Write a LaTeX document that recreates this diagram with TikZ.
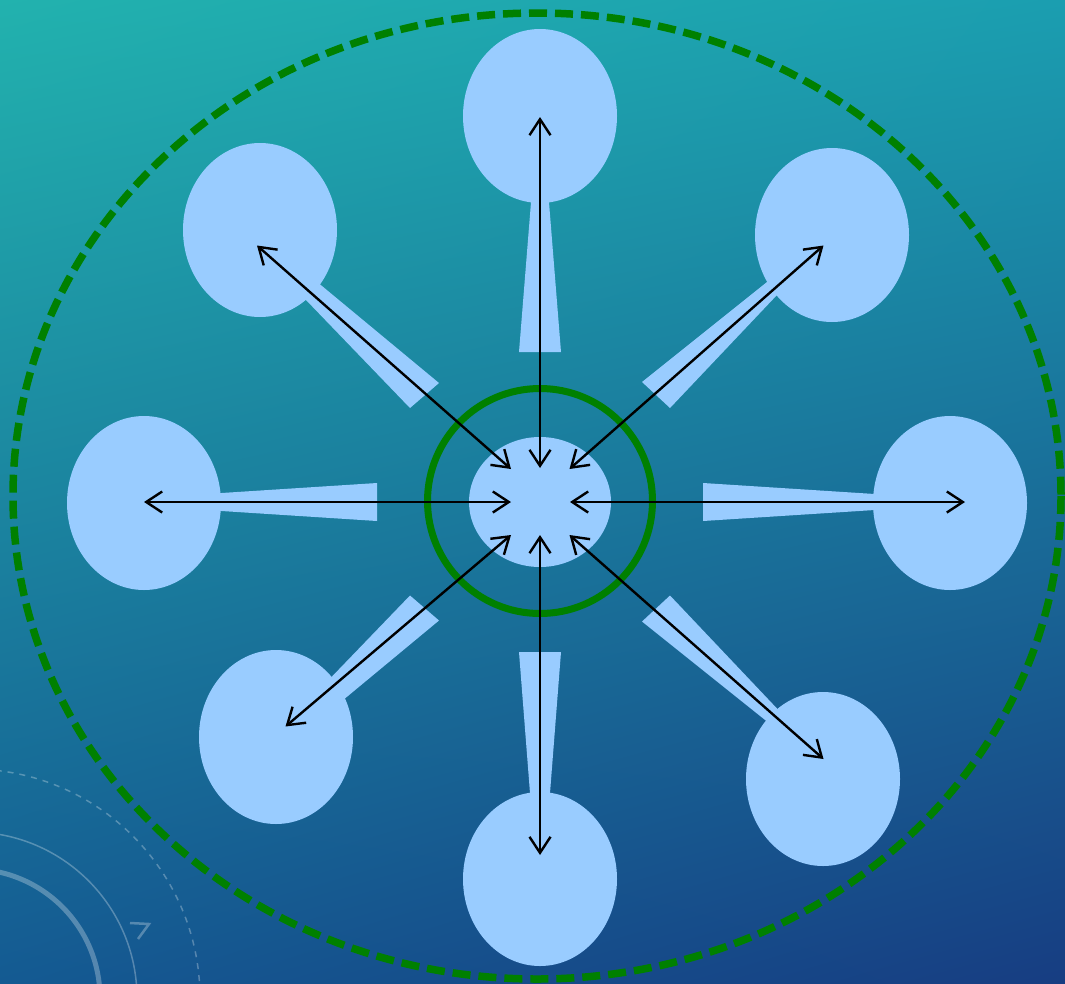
\documentclass[tikz,border=0pt]{standalone}
\usetikzlibrary{shapes.geometric,arrows.meta,shadings}
\definecolor{lb}{HTML}{99CCFF}
\definecolor{gr}{HTML}{008000}
\definecolor{bgul}{HTML}{22B2AE}
\definecolor{bgur}{HTML}{1B9EB0}
\definecolor{bgll}{HTML}{145A92}
\definecolor{bglr}{HTML}{173D82}
\tikzset{
  bub/.style={ellipse, fill=lb, inner sep=0pt, minimum width=154pt, minimum height=174pt},
  hub/.style={ellipse, fill=lb, inner sep=0pt, minimum width=142pt, minimum height=130pt},
  ring/.style={circle, draw=gr, line width=7pt, inner sep=0pt, minimum size=225pt},
  wedgefill/.style={fill=lb},
  spoke/.style={line width=2.4pt, {Straight Barb[length=16pt,width=21pt]}-{Straight Barb[length=16pt,width=21pt]}},
  deco/.style={draw=white, draw opacity=0.28},
}
\begin{document}
\begin{tikzpicture}[x=1pt,y=-1pt]
\path[use as bounding box] (0,0) rectangle (1065,983);
\clip (0,0) rectangle (1065,983);
\shade[upper left=bgul, upper right=bgur, lower left=bgll, lower right=bglr] (0,0) rectangle (1065,983);
% decorative arcs bottom-left
\draw[deco, line width=5pt] (-29,998) circle[radius=129];
\draw[deco, line width=1.5pt] (-29,998) circle[radius=166];
\draw[deco, line width=1.5pt, dash pattern=on 6pt off 6pt] (-29,998) circle[radius=229];
\draw[deco, line width=2.5pt] (130,923) -- (149,924) -- (138,939);
% outer dashed ellipse
\draw[gr, line width=7.5pt, dash pattern=on 18pt off 8pt] (537,496) ellipse[x radius=524, y radius=483];
% wedges
\fill[wedgefill] (519,352) -- (536.8,130) -- (543.2,130) -- (561,352) -- cycle;
\fill[wedgefill] (519,652) -- (536,870) -- (544,870) -- (561,652) -- cycle;
\fill[wedgefill] (377,483) -- (150,497.6) -- (150,506.4) -- (377,521) -- cycle;
\fill[wedgefill] (703,483) -- (945,498.5) -- (945,505.5) -- (703,521) -- cycle;
\fill[wedgefill] (439,383) -- (263.5,237.5) -- (254,246) -- (410,408) -- cycle;
\fill[wedgefill] (642,382) -- (829.5,232) -- (830.5,238.5) -- (670,408) -- cycle;
\fill[wedgefill] (439,620.5) -- (263.5,766) -- (254,757.5) -- (410,595.5) -- cycle;
\fill[wedgefill] (642,621.5) -- (829.5,771.5) -- (830.5,765) -- (670,595.5) -- cycle;
% outer ellipses
\node[bub] (n)  at (540,116) {};
\node[bub] (nw) at (260,230) {};
\node[bub] (ne) at (832,235) {};
\node[bub] (w)  at (144,503) {};
\node[bub] (e)  at (950,503) {};
\node[bub] (sw) at (276,737) {};
\node[bub] (s)  at (540,879) {};
\node[bub] (se) at (823,779) {};
% hub and ring
\node[hub] (c) at (540,502) {};
\node[ring] (r) at (540,501) {};
% arrow end points
\coordinate (on)  at (540,117);
\coordinate (onw) at (257,245.5);
\coordinate (one) at (823.5,245.5);
\coordinate (ow)  at (144,502);
\coordinate (oe)  at (965,502);
\coordinate (osw) at (285.5,726.5);
\coordinate (os)  at (540,855);
\coordinate (ose) at (823.5,759);
\coordinate (in)  at (540,468);
\coordinate (inw) at (511,469);
\coordinate (ine) at (569.5,469);
\coordinate (iw)  at (511,502);
\coordinate (ie)  at (570,502);
\coordinate (isw) at (511,535);
\coordinate (is)  at (540,535);
\coordinate (ise) at (569.5,535);
% spokes
\draw[spoke] (on) -- (in);
\draw[spoke] (onw) -- (inw);
\draw[spoke] (one) -- (ine);
\draw[spoke] (ow) -- (iw);
\draw[spoke] (oe) -- (ie);
\draw[spoke] (osw) -- (isw);
\draw[spoke] (os) -- (is);
\draw[spoke] (ose) -- (ise);
\end{tikzpicture}
\end{document}
